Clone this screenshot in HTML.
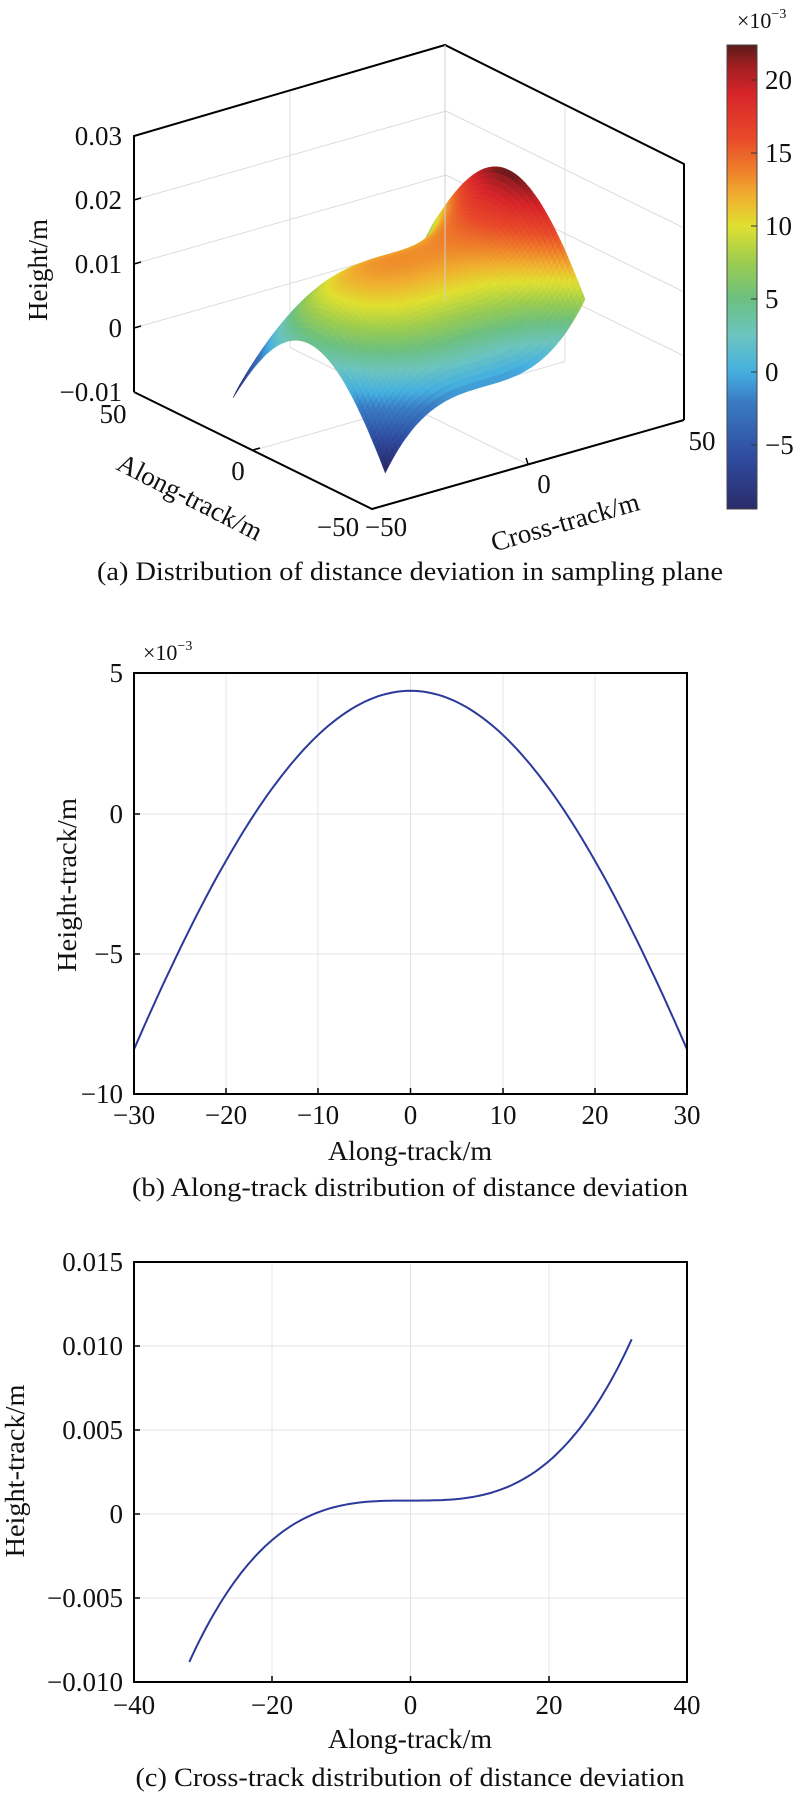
<!DOCTYPE html>
<html><head><meta charset="utf-8">
<style>
html,body{margin:0;padding:0;background:#fff;}
svg{display:block;}
text{font-family:"Liberation Serif",serif;fill:#111;}
</style></head>
<body>
<svg id="s" width="800" height="1794" viewBox="0 0 800 1794" xmlns="http://www.w3.org/2000/svg">
<defs>
<linearGradient id="cb" x1="0" y1="1" x2="0" y2="0">
<stop offset="0" stop-color="#2a2c6a"/>
<stop offset="0.107" stop-color="#2f4a9e"/>
<stop offset="0.233" stop-color="#3a7cc4"/>
<stop offset="0.296" stop-color="#45b0e0"/>
<stop offset="0.374" stop-color="#6cc4c0"/>
<stop offset="0.453" stop-color="#6cc080"/>
<stop offset="0.531" stop-color="#9ccc50"/>
<stop offset="0.610" stop-color="#e0e030"/>
<stop offset="0.673" stop-color="#f0b030"/>
<stop offset="0.736" stop-color="#ee7a2a"/>
<stop offset="0.799" stop-color="#e84a2a"/>
<stop offset="0.893" stop-color="#d8252a"/>
<stop offset="0.956" stop-color="#a01e22"/>
<stop offset="1" stop-color="#5a1a1a"/>
</linearGradient>
</defs>
<g id="grid3d" stroke="#dcdcdc" stroke-width="1" fill="none"></g>
<g id="surf"></g>
<g stroke="#000" stroke-width="2" fill="none">
<polyline points="134,392 134,136 445,45 684,164 684,420"/>
<polyline points="134,392 372,509 684,420"/>
</g>
<line x1="445" y1="45" x2="445" y2="301" stroke="#cfcfcf" stroke-width="1"/>
<g stroke="#000" stroke-width="1.5">
<line x1="134" y1="200" x2="141" y2="198"/><line x1="134" y1="264" x2="141" y2="262"/><line x1="134" y1="328" x2="141" y2="326"/>
<line x1="253" y1="450" x2="260" y2="448"/><line x1="528" y1="464" x2="526" y2="458"/>
</g>
<g font-size="27" text-anchor="end">
<text x="122" y="145">0.03</text><text x="122" y="209">0.02</text><text x="122" y="273">0.01</text><text x="122" y="337">0</text><text x="122" y="401">−0.01</text>
</g>
<g font-size="27" text-anchor="middle">
<text x="113" y="423">50</text><text x="238" y="480">0</text><text x="338" y="536">−50</text>
<text x="386" y="536">−50</text><text x="544" y="493">0</text><text x="702" y="450">50</text>
</g>
<text font-size="27" text-anchor="middle" transform="translate(38,270) rotate(-90)" dominant-baseline="central">Height/m</text>
<text font-size="27" text-anchor="middle" transform="translate(190,497) rotate(27)" dominant-baseline="central">Along-track/m</text>
<text font-size="27" text-anchor="middle" transform="translate(565,522) rotate(-16)" dominant-baseline="central">Cross-track/m</text>
<rect x="727" y="45" width="30" height="464" fill="url(#cb)" stroke="#444" stroke-width="1"/>
<g stroke="#333" stroke-width="1"><line x1="751" y1="80" x2="757" y2="80"/><line x1="751" y1="153" x2="757" y2="153"/><line x1="751" y1="226" x2="757" y2="226"/><line x1="751" y1="299" x2="757" y2="299"/><line x1="751" y1="372" x2="757" y2="372"/><line x1="751" y1="445" x2="757" y2="445"/></g>
<g font-size="27"><text x="765" y="89">20</text><text x="765" y="162">15</text><text x="765" y="235">10</text><text x="765" y="308">5</text><text x="765" y="381">0</text><text x="765" y="454">−5</text></g>
<text x="737" y="28" font-size="22">×10<tspan font-size="14" dy="-10">−3</tspan></text>
<text x="410" y="580" font-size="26" text-anchor="middle" textLength="626" lengthAdjust="spacingAndGlyphs">(a) Distribution of distance deviation in sampling plane</text>

<!-- panel b -->
<g stroke="#e4e4e4" stroke-width="1">
<line x1="226" y1="673" x2="226" y2="1094"/><line x1="318" y1="673" x2="318" y2="1094"/><line x1="410.5" y1="673" x2="410.5" y2="1094"/><line x1="503" y1="673" x2="503" y2="1094"/><line x1="595" y1="673" x2="595" y2="1094"/>
<line x1="134" y1="814" x2="687" y2="814"/><line x1="134" y1="954" x2="687" y2="954"/>
</g>
<path id="cb1" fill="none" stroke="#2b3a9a" stroke-width="2"/>
<rect x="134" y="673" width="553" height="421" fill="none" stroke="#000" stroke-width="2"/>
<g stroke="#000" stroke-width="1.5">
<line x1="226" y1="1094" x2="226" y2="1088"/><line x1="318" y1="1094" x2="318" y2="1088"/><line x1="410.5" y1="1094" x2="410.5" y2="1088"/><line x1="503" y1="1094" x2="503" y2="1088"/><line x1="595" y1="1094" x2="595" y2="1088"/>
<line x1="134" y1="814" x2="140" y2="814"/><line x1="134" y1="954" x2="140" y2="954"/>
</g>
<g font-size="27" text-anchor="end"><text x="123" y="682">5</text><text x="123" y="823">0</text><text x="123" y="963">−5</text><text x="123" y="1103">−10</text></g>
<g font-size="27" text-anchor="middle"><text x="134" y="1124">−30</text><text x="226" y="1124">−20</text><text x="318" y="1124">−10</text><text x="410.5" y="1124">0</text><text x="503" y="1124">10</text><text x="595" y="1124">20</text><text x="687" y="1124">30</text></g>
<text x="143" y="660" font-size="22">×10<tspan font-size="14" dy="-10">−3</tspan></text>
<text x="410" y="1160" font-size="27" text-anchor="middle" textLength="164" lengthAdjust="spacingAndGlyphs">Along-track/m</text>
<text font-size="27" text-anchor="middle" transform="translate(67,885) rotate(-90)" dominant-baseline="central" textLength="174" lengthAdjust="spacingAndGlyphs">Height-track/m</text>
<text x="410" y="1196" font-size="26" text-anchor="middle" textLength="556" lengthAdjust="spacingAndGlyphs">(b) Along-track distribution of distance deviation</text>

<!-- panel c -->
<g stroke="#e4e4e4" stroke-width="1">
<line x1="272" y1="1262" x2="272" y2="1682"/><line x1="410.5" y1="1262" x2="410.5" y2="1682"/><line x1="549" y1="1262" x2="549" y2="1682"/>
<line x1="134" y1="1346" x2="687" y2="1346"/><line x1="134" y1="1430" x2="687" y2="1430"/><line x1="134" y1="1514" x2="687" y2="1514"/><line x1="134" y1="1598" x2="687" y2="1598"/>
</g>
<path id="cc1" fill="none" stroke="#2b3a9a" stroke-width="2"/>
<rect x="134" y="1262" width="553" height="420" fill="none" stroke="#000" stroke-width="2"/>
<g stroke="#000" stroke-width="1.5">
<line x1="272" y1="1682" x2="272" y2="1676"/><line x1="410.5" y1="1682" x2="410.5" y2="1676"/><line x1="549" y1="1682" x2="549" y2="1676"/>
<line x1="134" y1="1346" x2="140" y2="1346"/><line x1="134" y1="1430" x2="140" y2="1430"/><line x1="134" y1="1514" x2="140" y2="1514"/><line x1="134" y1="1598" x2="140" y2="1598"/>
</g>
<g font-size="27" text-anchor="end"><text x="123" y="1271">0.015</text><text x="123" y="1355">0.010</text><text x="123" y="1439">0.005</text><text x="123" y="1523">0</text><text x="123" y="1607">−0.005</text><text x="123" y="1691">−0.010</text></g>
<g font-size="27" text-anchor="middle"><text x="134" y="1714">−40</text><text x="272" y="1714">−20</text><text x="410.5" y="1714">0</text><text x="549" y="1714">20</text><text x="687" y="1714">40</text></g>
<text x="410" y="1748" font-size="27" text-anchor="middle" textLength="164" lengthAdjust="spacingAndGlyphs">Along-track/m</text>
<text font-size="27" text-anchor="middle" transform="translate(15,1471) rotate(-90)" dominant-baseline="central" textLength="173" lengthAdjust="spacingAndGlyphs">Height-track/m</text>
<text x="410" y="1786" font-size="26" text-anchor="middle" textLength="549" lengthAdjust="spacingAndGlyphs">(c) Cross-track distribution of distance deviation</text>
</svg>
<script>
(function(){
var NS="http://www.w3.org/2000/svg";
function P(a,c,z){
 var u=(a+50)/100,v=(c+50)/100,w=(z+0.01)/0.04;
 return [372+u*(-238)+v*312, 509+u*(-117)+v*(-89)-w*256];
}
function line(g,p,q){var l=document.createElementNS(NS,"line");l.setAttribute("x1",p[0].toFixed(1));l.setAttribute("y1",p[1].toFixed(1));l.setAttribute("x2",q[0].toFixed(1));l.setAttribute("y2",q[1].toFixed(1));g.appendChild(l);}
var g=document.getElementById("grid3d");
[0,0.01,0.02].forEach(function(z){line(g,P(50,-50,z),P(50,50,z));line(g,P(50,50,z),P(-50,50,z));});
line(g,P(50,0,-0.01),P(50,0,0.03));
line(g,P(0,50,-0.01),P(0,50,0.03));
line(g,P(0,-50,-0.01),P(0,50,-0.01));
line(g,P(-50,0,-0.01),P(50,0,-0.01));
// colormap
var st=[[-9.4,[42,44,106]],[-6,[47,74,158]],[-2,[58,124,196]],[0,[69,176,224]],[2.5,[108,196,192]],[5,[108,192,128]],[7.5,[156,204,80]],[10,[224,224,48]],[12,[240,176,48]],[14,[238,122,42]],[16,[232,74,42]],[19,[216,37,42]],[21,[160,30,34]],[22.4,[90,26,26]]];
function cm(v){if(v<=st[0][0])return st[0][1];for(var i=1;i<st.length;i++){if(v<=st[i][0]){var t=(v-st[i-1][0])/(st[i][0]-st[i-1][0]);var a=st[i-1][1],b=st[i][1];return [a[0]+(b[0]-a[0])*t,a[1]+(b[1]-a[1])*t,a[2]+(b[2]-a[2])*t];}}return st[st.length-1][1];}
function A(a){return (-0.01589*a*a+1.85e-6*a*a*a*a)*1e-3;}
function Z(a,c){return 13.3e-3+A(a)+9.1e-3*Math.pow(c/32,3);}
var N=64,R=32,cells=[];
for(var i=0;i<N;i++)for(var j=0;j<N;j++){
 var a0=-R+2*R*i/N,a1=-R+2*R*(i+1)/N,c0=-R+2*R*j/N,c1=-R+2*R*(j+1)/N;
 cells.push([a0,a1,c0,c1,a0+a1+c0+c1]);
}
cells.sort(function(x,y){return y[4]-x[4];});
var sg=document.getElementById("surf"),frag=document.createDocumentFragment();
cells.forEach(function(k){
 var pts=[[k[0],k[2]],[k[1],k[2]],[k[1],k[3]],[k[0],k[3]]],s="",zs=0;
 pts.forEach(function(p){var z=Z(p[0],p[1]);zs+=z;var q=P(p[0],p[1],z);s+=q[0].toFixed(1)+","+q[1].toFixed(1)+" ";});
 var col=cm(zs/4*1000),cs="rgb("+Math.round(col[0])+","+Math.round(col[1])+","+Math.round(col[2])+")";
 var pg=document.createElementNS(NS,"polygon");pg.setAttribute("points",s);pg.setAttribute("fill",cs);pg.setAttribute("stroke",cs);pg.setAttribute("stroke-width","0.6");frag.appendChild(pg);
});
sg.appendChild(frag);
// panel b
var d="";for(var x=-30;x<=30.001;x+=0.5){var v=4.4-0.01589*x*x+1.85e-6*x*x*x*x;d+=(x==-30?"M":"L")+(410.5+x*9.217).toFixed(1)+","+(814-v*28).toFixed(1);}
document.getElementById("cb1").setAttribute("d",d);
d="";for(var x=-32;x<=32.001;x+=0.5){var v=0.0008+2.93e-7*x*x*x;d+=(x==-32?"M":"L")+(410.5+x*6.9125).toFixed(1)+","+(1514-v/0.005*84).toFixed(1);}
document.getElementById("cc1").setAttribute("d",d);
})();
</script>
</body></html>
